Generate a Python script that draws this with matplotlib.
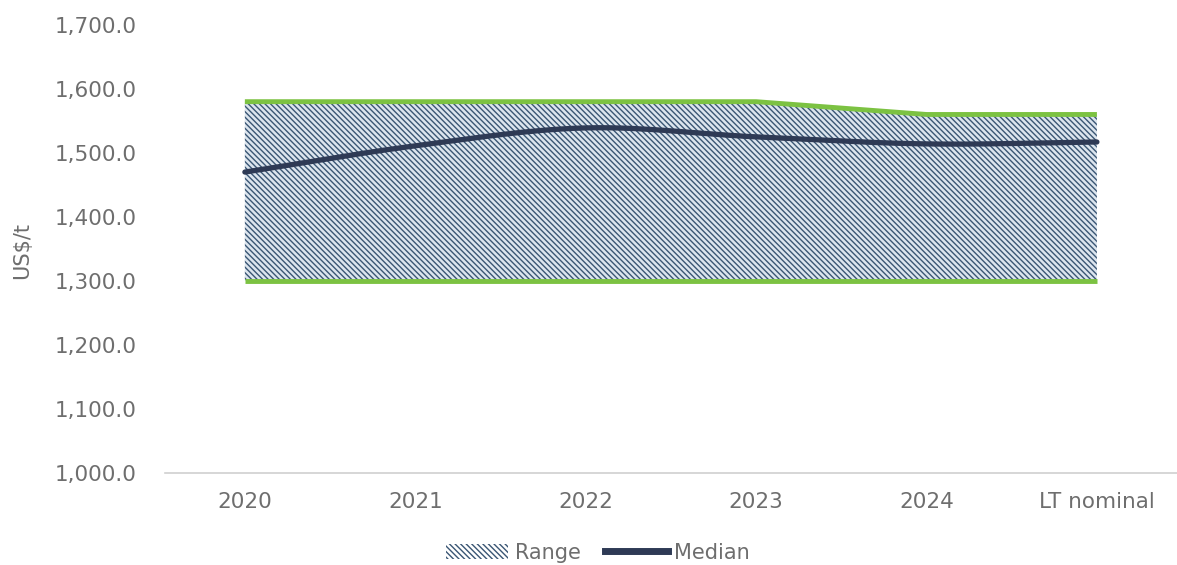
import numpy as np
import matplotlib.pyplot as plt
from matplotlib.patches import Patch
from matplotlib.lines import Line2D

categories = ["2020", "2021", "2022", "2023", "2024", "LT nominal"]
range_low = [1300, 1300, 1300, 1300, 1300, 1300]
range_high = [1580, 1580, 1580, 1580, 1560, 1560]
median = [1470, 1511, 1539, 1525, 1514, 1517]


def smooth(x, y, n=30):
    # Catmull-Rom curve through the points, like Excel's smoothed line
    x = np.asarray(x, float)
    y = np.asarray(y, float)
    px = np.concatenate([[2 * x[0] - x[1]], x, [2 * x[-1] - x[-2]]])
    py = np.concatenate([[2 * y[0] - y[1]], y, [2 * y[-1] - y[-2]]])
    xs, ys = [], []
    t = np.linspace(0, 1, n)
    for i in range(1, len(px) - 2):
        for p, out in ((px, xs), (py, ys)):
            p0, p1, p2, p3 = p[i - 1], p[i], p[i + 1], p[i + 2]
            out.extend(0.5 * (2 * p1 + (-p0 + p2) * t
                              + (2 * p0 - 5 * p1 + 4 * p2 - p3) * t ** 2
                              + (-p0 + 3 * p1 - 3 * p2 + p3) * t ** 3))
    return np.array(xs), np.array(ys)


plt.rcParams['hatch.linewidth'] = 1.0
plt.rcParams['hatch.color'] = '#3a5674'
hatch = '\\' * 6

fig = plt.figure(figsize=(11.77, 5.65), dpi=100)
ax = fig.add_axes([0.140, 0.163, 0.860, 0.793])

x = np.arange(len(categories))

ax.fill_between(x, range_low, range_high, facecolor='#dce5ee', edgecolor='#3a5674',
                hatch=hatch, linewidth=0)
ax.plot(x, range_high, color='#7cc242', lw=3.5, solid_capstyle='butt')
ax.plot(x, range_low, color='#7cc242', lw=3.5, solid_capstyle='butt')

mx, my = smooth(x, median)
ax.plot(mx, my, color='#2e3a55', lw=3.8, solid_capstyle='round')

ax.set_xlim(-0.47, len(categories) - 0.53)
ax.set_ylim(1000, 1700)
ax.set_xticks(x)
ax.set_xticklabels(categories)
ax.set_yticks(np.arange(1000, 1701, 100))
ax.set_yticklabels([f"{v:,.1f}" for v in np.arange(1000, 1701, 100)])
ax.tick_params(axis='both', length=0, labelsize=15.5, colors='#6e6e6e')
ax.tick_params(axis='x', pad=14)
ax.tick_params(axis='y', pad=20)

for s in ['top', 'right', 'left']:
    ax.spines[s].set_visible(False)
ax.spines['bottom'].set_color('#d0d0d0')
ax.spines['bottom'].set_linewidth(1.2)

fig.text(0.019, 0.557, "US$/t", rotation=90, ha='center', va='center',
         fontsize=15, color='#6e6e6e')

handles = [Patch(facecolor='white', edgecolor='#3a5674', hatch=hatch, linewidth=0),
           Line2D([0], [0], color='#2e3a55', lw=5)]
fig.legend(handles, ["Range", "Median"], loc='center', bbox_to_anchor=(0.508, 0.022),
           ncol=2, frameon=False, fontsize=15, labelcolor='#6e6e6e',
           handlelength=3.0, handletextpad=0.3, columnspacing=1.2)

fig.savefig("out.png", dpi=100)
